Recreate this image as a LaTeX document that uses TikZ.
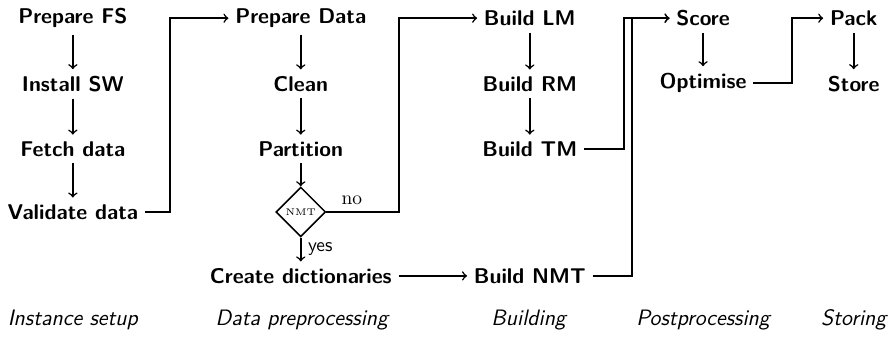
\documentclass[tikz,border=0pt]{standalone}
\usetikzlibrary{shapes.geometric}
\begin{document}
\begin{tikzpicture}[x=1cm,y=1cm,
    stage/.style={font=\fontsize{11}{13}\selectfont\sffamily\bfseries},
    phase/.style={font=\fontsize{11.5}{14}\selectfont\sffamily\itshape},
    decision/.style={diamond, draw, thick, aspect=1, inner sep=0pt,
      minimum size=0.9cm, font=\tiny},
    flow/.style={->, thick}]
    \useasboundingbox (0,0) rectangle (16.2,-6.16);

    % Instance setup
    \node[stage] (fs)   at (1.32,-0.33) {Prepare FS};
    \node[stage] (sw)   at (1.32,-1.52) {Install SW};
    \node[stage] (fetch) at (1.32,-2.70) {Fetch data};
    \node[stage] (valid) at (1.32,-3.84) {Validate data};
    \draw[flow] (fs) -- (sw);
    \draw[flow] (sw) -- (fetch);
    \draw[flow] (fetch) -- (valid);

    % Data preprocessing
    \node[stage] (prep)  at (5.45,-0.33) {Prepare Data};
    \node[stage] (clean) at (5.45,-1.52) {Clean};
    \node[stage] (part)  at (5.45,-2.70) {Partition};
    \node[decision] (isnmt) at (5.45,-3.84) {NMT};
    \node[stage] (dict)  at (5.45,-5.00) {Create dictionaries};
    \draw[flow] (prep) -- (clean);
    \draw[flow] (clean) -- (part);
    \draw[flow] (part) -- (isnmt);
    \draw[flow] (isnmt) -- node[right, font=\sffamily] {yes} (dict);

    % Building
    \node[stage] (lm)  at (9.60,-0.33) {Build LM};
    \node[stage] (rm)  at (9.60,-1.52) {Build RM};
    \node[stage] (tm)  at (9.60,-2.70) {Build TM};
    \node[stage] (bnmt) at (9.60,-5.00) {Build NMT};
    \draw[flow] (lm) -- (rm);
    \draw[flow] (rm) -- (tm);
    \draw[flow] (dict) -- (bnmt);

    % Postprocessing and storing
    \node[stage] (score) at (12.74,-0.33) {Score};
    \node[stage] (opt)   at (12.74,-1.50) {Optimise};
    \node[stage] (pack)  at (15.47,-0.33) {Pack};
    \node[stage] (store) at (15.47,-1.52) {Store};
    \draw[flow] (score) -- (opt);
    \draw[flow] (pack) -- (store);

    % Links between phases
    \draw[flow] (valid.east) -- ++(0.45,0) |- (prep.west);
    \draw[flow] (isnmt.east) -- node[above, pos=0.35] {no} ++(1.32,0) |- (lm.west);
    \draw[flow] (tm.east) -- ++(0.72,0) |- (score.west);
    \draw[flow] (bnmt.east) -- ++(0.72,0) |- (score.west);
    \draw[flow] (opt.east) -- ++(0.70,0) |- (pack.west);

    % Phase labels
    \node[phase] (l1) at (1.32,-5.80) {Instance setup};
    \node[phase] (l2) at (5.47,-5.80) {Data preprocessing};
    \node[phase] (l3) at (9.58,-5.80) {Building};
    \node[phase] (l4) at (12.74,-5.80) {Postprocessing};
    \node[phase] (l5) at (15.47,-5.80) {Storing};
\end{tikzpicture}
\end{document}
